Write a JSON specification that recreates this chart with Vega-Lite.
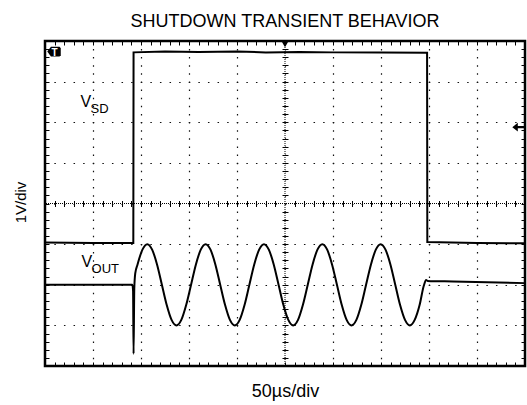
{
  "$schema": "https://vega.github.io/schema/vega-lite/v6.json",
  "width": 480,
  "height": 325,
  "autosize": "none",
  "padding": {"left": 45, "top": 41, "right": 2, "bottom": 39},
  "background": "#ffffff",
  "title": {"text": "SHUTDOWN TRANSIENT BEHAVIOR", "font": "Liberation Sans", "fontSize": 18, "fontWeight": "normal", "color": "#000000", "anchor": "middle", "frame": "group", "baseline": "alphabetic", "offset": -5},
  "config": {
    "view": {"stroke": "#000000", "strokeWidth": 2.5},
    "axis": {"grid": false, "labels": false, "domain": false, "ticks": false, "tickColor": "#000000", "tickWidth": 1}
  },
  "data": {"values": [{}]},
  "datasets": {
    "vsd": [
      {"t": 0, "v": 3.04}, {"t": 1.0, "v": 3.03}, {"t": 1.84, "v": 3.03}, {"t": 1.845, "v": 7.72},
      {"t": 2.5, "v": 7.74}, {"t": 3.2, "v": 7.73}, {"t": 4.0, "v": 7.74}, {"t": 4.6, "v": 7.72},
      {"t": 5.3, "v": 7.73}, {"t": 6.0, "v": 7.72}, {"t": 7.0, "v": 7.72}, {"t": 7.96, "v": 7.71},
      {"t": 7.965, "v": 3.05}, {"t": 9.0, "v": 3.03}, {"t": 10, "v": 3.02}
    ],
    "vout": [
      {"t": 0, "v": 2.0}, {"t": 1.0, "v": 2.0}, {"t": 1.82, "v": 2.0}, {"t": 1.835, "v": 1.85},
      {"t": 1.845, "v": 0.3}, {"t": 1.86, "v": 1.9}, {"t": 1.88, "v": 2.28},
      {"t": 1.928, "v": 2.5}, {"t": 2.030, "v": 2.866}, {"t": 2.131, "v": 3.0}, {"t": 2.232, "v": 2.866},
      {"t": 2.334, "v": 2.5}, {"t": 2.435, "v": 2.0}, {"t": 2.536, "v": 1.5}, {"t": 2.637, "v": 1.134},
      {"t": 2.739, "v": 1.0}, {"t": 2.840, "v": 1.134}, {"t": 2.941, "v": 1.5}, {"t": 3.043, "v": 2.0},
      {"t": 3.144, "v": 2.5}, {"t": 3.245, "v": 2.866}, {"t": 3.346, "v": 3.0}, {"t": 3.448, "v": 2.866},
      {"t": 3.549, "v": 2.5}, {"t": 3.650, "v": 2.0}, {"t": 3.752, "v": 1.5}, {"t": 3.853, "v": 1.134},
      {"t": 3.954, "v": 1.0}, {"t": 4.056, "v": 1.134}, {"t": 4.157, "v": 1.5}, {"t": 4.258, "v": 2.0},
      {"t": 4.359, "v": 2.5}, {"t": 4.461, "v": 2.866}, {"t": 4.562, "v": 3.0}, {"t": 4.663, "v": 2.866},
      {"t": 4.765, "v": 2.5}, {"t": 4.866, "v": 2.0}, {"t": 4.967, "v": 1.5}, {"t": 5.069, "v": 1.134},
      {"t": 5.170, "v": 1.0}, {"t": 5.271, "v": 1.134}, {"t": 5.372, "v": 1.5}, {"t": 5.474, "v": 2.0},
      {"t": 5.575, "v": 2.5}, {"t": 5.676, "v": 2.866}, {"t": 5.778, "v": 3.0}, {"t": 5.879, "v": 2.866},
      {"t": 5.980, "v": 2.5}, {"t": 6.082, "v": 2.0}, {"t": 6.183, "v": 1.5}, {"t": 6.284, "v": 1.134},
      {"t": 6.385, "v": 1.0}, {"t": 6.487, "v": 1.134}, {"t": 6.588, "v": 1.5}, {"t": 6.689, "v": 2.0},
      {"t": 6.791, "v": 2.5}, {"t": 6.892, "v": 2.866}, {"t": 6.993, "v": 3.0}, {"t": 7.094, "v": 2.866},
      {"t": 7.196, "v": 2.5}, {"t": 7.297, "v": 2.0}, {"t": 7.398, "v": 1.5}, {"t": 7.500, "v": 1.134},
      {"t": 7.601, "v": 1.0}, {"t": 7.702, "v": 1.134}, {"t": 7.804, "v": 1.5}, {"t": 7.89, "v": 1.97},
      {"t": 7.94, "v": 2.12}, {"t": 7.97, "v": 2.095}, {"t": 8.5, "v": 2.08}, {"t": 10, "v": 2.04}
    ],
    "icon": [{"t": 0.2, "v": 7.74, "txt": "T"}],
    "trigpos": [{"t": 5, "v": 7.93}],
    "triglevel": [{"t": 9.85, "v": 5.88}],
    "mainlbl": [{"t": 0.74, "v": 6.38, "txt": "V"}, {"t": 0.76, "v": 2.44, "txt": "V"}],
    "sublbl": [{"t": 0.95, "v": 6.22, "txt": "SD"}, {"t": 0.97, "v": 2.28, "txt": "OUT"}]
  },
  "layer": [
    {
      "data": {"name": "vsd"},
      "mark": {"type": "line", "color": "#000000", "strokeWidth": 2, "interpolate": "linear"},
      "encoding": {
        "x": {"field": "t", "type": "quantitative", "scale": {"domain": [0, 10], "nice": false, "zero": false},
          "axis": {"orient": "bottom", "values": [1, 2, 3, 4, 5, 6, 7, 8, 9], "grid": true, "gridColor": "#111111", "gridWidth": 1.2, "gridDash": [1.5, 6.625], "gridDashOffset": 0.75,
            "title": "50µs/div", "titleFont": "Liberation Sans", "titleFontSize": 18, "titleFontWeight": "normal", "titleColor": "#000000", "titleBaseline": "alphabetic", "titleAlign": "center", "titleX": 240, "titleY": 30}},
        "y": {"field": "v", "type": "quantitative", "scale": {"domain": [0, 8], "nice": false, "zero": false},
          "axis": {"orient": "left", "values": [1, 2, 3, 4, 5, 6, 7], "grid": true, "gridColor": "#111111", "gridWidth": 1.2, "gridDash": [1.5, 8.1], "gridDashOffset": 0.75,
            "title": "1V/div", "titleFont": "Liberation Sans", "titleFontSize": 15, "titleFontWeight": "normal", "titleColor": "#000000", "titleBaseline": "alphabetic", "titleAlign": "center", "titleAngle": 270, "titleX": -20, "titleY": 161}}
      }
    },
    {
      "data": {"name": "vout"},
      "mark": {"type": "line", "color": "#000000", "strokeWidth": 2, "interpolate": "monotone"},
      "encoding": {
        "x": {"field": "t", "type": "quantitative", "scale": {"domain": [0, 10], "nice": false, "zero": false}, "axis": null},
        "y": {"field": "v", "type": "quantitative", "scale": {"domain": [0, 8], "nice": false, "zero": false}, "axis": null}
      }
    },
    {
      "mark": {"type": "rule", "color": "#000000", "strokeWidth": 1, "strokeDash": [1, 1]},
      "encoding": {
        "x": {"datum": 5, "type": "quantitative", "scale": {"domain": [0, 10], "nice": false, "zero": false},
          "axis": {"orient": "bottom", "offset": -165.5, "ticks": true, "tickSize": 6, "title": null,
            "values": [0.2,0.4,0.6,0.8,1,1.2,1.4,1.6,1.8,2,2.2,2.4,2.6,2.8,3,3.2,3.4,3.6,3.8,4,4.2,4.4,4.6,4.8,5.2,5.4,5.6,5.8,6,6.2,6.4,6.6,6.8,7,7.2,7.4,7.6,7.8,8,8.2,8.4,8.6,8.8,9,9.2,9.4,9.6,9.8]}}
      }
    },
    {
      "mark": {"type": "rule", "color": "#000000", "strokeWidth": 1, "strokeDash": [1, 1]},
      "encoding": {
        "y": {"datum": 4, "type": "quantitative", "scale": {"domain": [0, 8], "nice": false, "zero": false},
          "axis": {"orient": "left", "offset": -243, "ticks": true, "tickSize": 6, "title": null,
            "values": [0.2,0.4,0.6,0.8,1,1.2,1.4,1.6,1.8,2,2.2,2.4,2.6,2.8,3,3.2,3.4,3.6,3.8,4.2,4.4,4.6,4.8,5,5.2,5.4,5.6,5.8,6,6.2,6.4,6.6,6.8,7,7.2,7.4,7.6,7.8]}}
      }
    },
    {
      "data": {"name": "icon"},
      "mark": {"type": "point", "shape": "M-1.2,0L-0.6,-0.8L0.8,-0.8L1,-0.6L1,0.6L0.8,0.8L-0.6,0.8Z", "filled": true, "color": "#000000", "opacity": 1, "size": 150},
      "encoding": {
        "x": {"field": "t", "type": "quantitative", "scale": {"domain": [0, 10], "nice": false, "zero": false},
          "axis": {"orient": "bottom", "offset": -4, "ticks": true, "tickSize": 4, "title": null,
            "values": [0.2,0.4,0.6,0.8,1,1.2,1.4,1.6,1.8,2,2.2,2.4,2.6,2.8,3,3.2,3.4,3.6,3.8,4,4.2,4.4,4.6,4.8,5,5.2,5.4,5.6,5.8,6,6.2,6.4,6.6,6.8,7,7.2,7.4,7.6,7.8,8,8.2,8.4,8.6,8.8,9,9.2,9.4,9.6,9.8]}},
        "y": {"field": "v", "type": "quantitative", "scale": {"domain": [0, 8], "nice": false, "zero": false},
          "axis": {"orient": "left", "offset": -4, "ticks": true, "tickSize": 4, "title": null,
            "values": [0.2,0.4,0.6,0.8,1,1.2,1.4,1.6,1.8,2,2.2,2.4,2.6,2.8,3,3.2,3.4,3.6,3.8,4,4.2,4.4,4.6,4.8,5,5.2,5.4,5.6,5.8,6,6.2,6.4,6.6,6.8,7,7.2,7.4,7.6,7.8]}}
      }
    },
    {
      "data": {"name": "icon"},
      "mark": {"type": "text", "color": "#ffffff", "font": "Liberation Sans", "fontSize": 10, "fontWeight": "bold", "align": "center", "baseline": "middle", "dy": 1},
      "encoding": {
        "x": {"field": "t", "type": "quantitative", "scale": {"domain": [0, 10], "nice": false, "zero": false}, "axis": null},
        "y": {"field": "v", "type": "quantitative", "scale": {"domain": [0, 8], "nice": false, "zero": false}, "axis": null},
        "text": {"field": "txt"}
      }
    },
    {
      "data": {"name": "trigpos"},
      "mark": {"type": "point", "shape": "triangle-down", "filled": true, "color": "#000000", "opacity": 1, "size": 60},
      "encoding": {
        "x": {"field": "t", "type": "quantitative", "scale": {"domain": [0, 10], "nice": false, "zero": false}, "axis": null},
        "y": {"field": "v", "type": "quantitative", "scale": {"domain": [0, 8], "nice": false, "zero": false}, "axis": null}
      }
    },
    {
      "data": {"name": "triglevel"},
      "mark": {"type": "point", "shape": "M-1,0L0,-0.8L0,-0.2L1.2,-0.2L1.2,0.2L0,0.2L0,0.8Z", "filled": true, "color": "#000000", "opacity": 1, "size": 120},
      "encoding": {
        "x": {"field": "t", "type": "quantitative", "scale": {"domain": [0, 10], "nice": false, "zero": false}, "axis": null},
        "y": {"field": "v", "type": "quantitative", "scale": {"domain": [0, 8], "nice": false, "zero": false}, "axis": null}
      }
    },
    {
      "data": {"name": "mainlbl"},
      "mark": {"type": "text", "color": "#000000", "font": "Liberation Sans", "fontSize": 16, "align": "left", "baseline": "alphabetic"},
      "encoding": {
        "x": {"field": "t", "type": "quantitative", "scale": {"domain": [0, 10], "nice": false, "zero": false},
          "axis": {"orient": "top", "offset": -4, "ticks": true, "tickSize": 4, "title": null,
            "values": [0.2,0.4,0.6,0.8,1,1.2,1.4,1.6,1.8,2,2.2,2.4,2.6,2.8,3,3.2,3.4,3.6,3.8,4,4.2,4.4,4.6,4.8,5,5.2,5.4,5.6,5.8,6,6.2,6.4,6.6,6.8,7,7.2,7.4,7.6,7.8,8,8.2,8.4,8.6,8.8,9,9.2,9.4,9.6,9.8]}},
        "y": {"field": "v", "type": "quantitative", "scale": {"domain": [0, 8], "nice": false, "zero": false},
          "axis": {"orient": "right", "offset": -4, "ticks": true, "tickSize": 4, "title": null,
            "values": [0.2,0.4,0.6,0.8,1,1.2,1.4,1.6,1.8,2,2.2,2.4,2.6,2.8,3,3.2,3.4,3.6,3.8,4,4.2,4.4,4.6,4.8,5,5.2,5.4,5.6,5.8,6,6.2,6.4,6.6,6.8,7,7.2,7.4,7.6,7.8]}},
        "text": {"field": "txt"}
      }
    },
    {
      "data": {"name": "sublbl"},
      "mark": {"type": "text", "color": "#000000", "font": "Liberation Sans", "fontSize": 13, "align": "left", "baseline": "alphabetic"},
      "encoding": {
        "x": {"field": "t", "type": "quantitative", "scale": {"domain": [0, 10], "nice": false, "zero": false}, "axis": null},
        "y": {"field": "v", "type": "quantitative", "scale": {"domain": [0, 8], "nice": false, "zero": false}, "axis": null},
        "text": {"field": "txt"}
      }
    }
  ],
  "resolve": {"axis": {"x": "independent", "y": "independent"}}
}
